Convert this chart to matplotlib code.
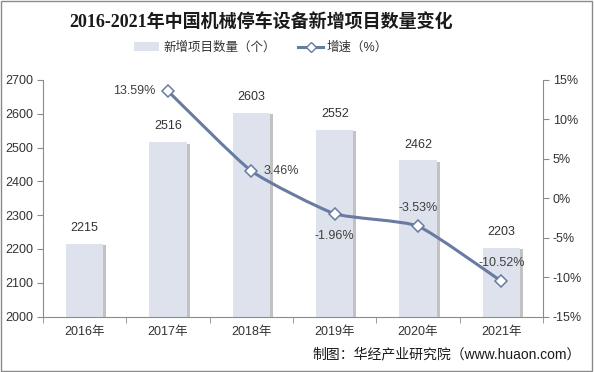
import numpy as np
import matplotlib
matplotlib.use('Agg')
import matplotlib.pyplot as plt
import matplotlib.patheffects as pe
from matplotlib.path import Path
from matplotlib.patches import PathPatch, Rectangle, Patch
from matplotlib.lines import Line2D
from matplotlib.ticker import FixedLocator

plt.rcParams['font.family'] = ['Liberation Sans', 'Noto Sans CJK SC']

# data
years = ['2016年', '2017年', '2018年', '2019年', '2020年', '2021年']
counts = [2215, 2516, 2603, 2552, 2462, 2203]
growth_years = [1, 2, 3, 4, 5]  # 2017 .. 2021
growth = [13.59, 3.46, -1.96, -3.53, -10.52]

bar_color = '#dde2ec'
line_color = '#687ba3'
text_color = '#333333'
axis_color = '#8c8c8c'

fig = plt.figure(figsize=(5.94, 3.72), dpi=100)
ax = fig.add_axes([0.0724, 0.149, 0.8418, 0.636])

x = np.arange(len(years))
bars = ax.bar(x, counts, width=0.45, color=bar_color, zorder=2,
              path_effects=[pe.SimplePatchShadow(offset=(2, -1), shadow_rgbFace='#9a9a9a', alpha=0.6),
                            pe.Normal()])
for xi, v in zip(x, counts):
    ax.annotate(str(v), (xi, v), xytext=(0, 7), textcoords='offset points',
                ha='center', va='bottom', fontsize=9, color=text_color)

ax.set_xlim(-0.5, 5.5)
ax.set_ylim(2000, 2700)
ax.set_yticks(range(2000, 2701, 100))
ax.set_xticks(x)
ax.set_xticklabels(years)
ax.xaxis.set_minor_locator(FixedLocator(np.arange(-0.5, 6, 1)))
ax.tick_params(axis='x', which='major', length=0, labelsize=9, labelcolor=text_color, pad=7)
ax.tick_params(axis='x', which='minor', length=4, color=axis_color)
ax.tick_params(axis='y', length=4, color=axis_color, labelsize=9, labelcolor=text_color, pad=3)
for s in ['top', 'right']:
    ax.spines[s].set_visible(False)
ax.spines['left'].set_color(axis_color)
ax.spines['bottom'].set_color(axis_color)

ax2 = ax.twinx()
ax2.set_ylim(-15, 15)
ax2.set_yticks(range(-15, 16, 5))
ax2.set_yticklabels([f'{v}%' for v in range(-15, 16, 5)])
ax2.tick_params(axis='y', length=4, color=axis_color, labelsize=9, labelcolor=text_color, pad=3)
for s in ['top', 'left', 'bottom']:
    ax2.spines[s].set_visible(False)
ax2.spines['right'].set_color(axis_color)

# gently smoothed line (bezier segments, low tension)
pts = np.column_stack([growth_years, growth]).astype(float)
ext = np.vstack([pts[0], pts, pts[-1]])
verts = [pts[0]]
codes = [Path.MOVETO]
k = 1 / 12
for i in range(1, len(ext) - 2):
    p0, p1, p2, p3 = ext[i - 1], ext[i], ext[i + 1], ext[i + 2]
    c1 = p1 + (p2 - p0) * k
    c2 = p2 - (p3 - p1) * k
    verts += [c1, c2, p2]
    codes += [Path.CURVE4] * 3
ax2.add_patch(PathPatch(Path(verts, codes), facecolor='none', edgecolor=line_color,
                        lw=2.2, zorder=3, capstyle='round'))
ax2.plot(growth_years, growth, ls='none', marker='D', ms=6.5, mfc='white',
         mec=line_color, mew=1.1, zorder=4)

label_offsets = [(-9, 0, 'right', 'center'), (9, 0, 'left', 'center'),
                 (0, -12, 'center', 'top'), (0, 9, 'center', 'bottom'),
                 (0, 9, 'center', 'bottom')]
for gx, gv, (dx, dy, ha, va) in zip(growth_years, growth, label_offsets):
    ax2.annotate(f'{gv:.2f}%', (gx, gv), xytext=(dx, dy), textcoords='offset points',
                 ha=ha, va=va, fontsize=9, color='#404040', zorder=5)

fig.text(0.44, 0.94, '2016-2021年中国机械停车设备新增项目数量变化', ha='center', va='center',
         fontsize=13, fontweight='bold', color='#1a1a1a',
         family=['Liberation Serif', 'Noto Sans CJK SC'])

handles = [Patch(facecolor=bar_color, edgecolor='none'),
           Line2D([], [], color=line_color, lw=2.2, marker='D', ms=5.5, mfc='white', mec=line_color)]
fig.legend(handles, ['新增项目数量（个）', '增速（%）'], loc='center', bbox_to_anchor=(0.44, 0.871),
           ncol=2, frameon=False, fontsize=9, handlelength=2.0, columnspacing=1.8,
           handletextpad=0.3, labelcolor=text_color)

fig.text(0.978, 0.048, '制图：华经产业研究院（www.huaon.com）', ha='right', va='center',
         fontsize=10, color='#1a1a1a')

fig.patches.append(Rectangle((0.002, 0.003), 0.995, 0.993, transform=fig.transFigure,
                             fill=False, edgecolor='#8a8a8a', lw=1))

fig.savefig('out.png', dpi=100)
